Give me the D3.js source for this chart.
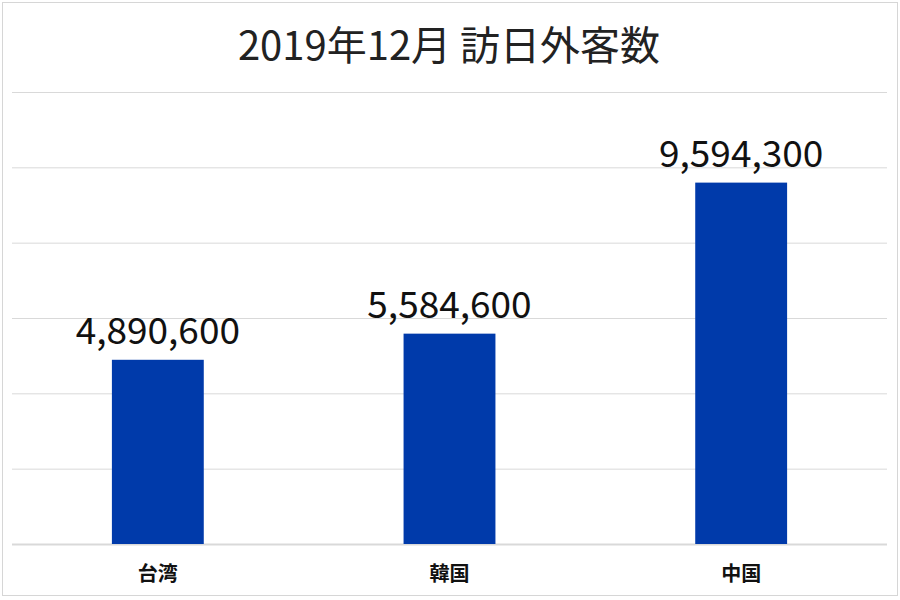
<!DOCTYPE html>
<html>
<head>
<meta charset="utf-8">
<script src="https://cdn.jsdelivr.net/npm/d3@7"></script>
<style>
  body { margin: 0; background: #fff; }
  svg { display: block; }
</style>
</head>
<body>
<div id="chart"></div>
<script>
const categories = ['台湾', '韓国', '中国'];
const visitors = [4890600, 5584600, 9594300];
const yTicks = [0, 2000000, 4000000, 6000000, 8000000, 10000000, 12000000];
const titleText = '2019年12月 訪日外客数';

var svgwidth = 900;
var svgheight = 600;

const data = categories.map((c, i) => ({ category: c, value: visitors[i] }));

var svg = d3.select('#chart')
    .append('svg')
    .attr('width', svgwidth)
    .attr('height', svgheight)
    .style('font-family', '"Noto Sans CJK JP", "Noto Sans", sans-serif');

svg.append('rect')
    .attr('width', svgwidth)
    .attr('height', svgheight)
    .attr('fill', '#fff');

// light frame round the picture
svg.append('rect')
    .attr('x', 2.5)
    .attr('y', 2.5)
    .attr('width', svgwidth - 5)
    .attr('height', svgheight - 7)
    .attr('fill', 'none')
    .attr('stroke', '#d6d6d6');

var xscale = d3.scaleBand()
    .domain(categories)
    .range([12, 887])
    .paddingInner(0.685)
    .paddingOuter(0.3425);

var yscale = d3.scaleLinear()
    .domain([0, 12000000])
    .range([544, 92]);

// gridlines
var grid = svg.append('g')
    .attr('transform', 'translate(12, 0)')
    .call(d3.axisLeft(yscale).tickValues(yTicks).tickSize(-875).tickFormat(''));
grid.select('.domain').remove();
grid.selectAll('.tick line')
    .attr('stroke', '#d9d9d9')
    .attr('stroke-width', d => d === 0 ? 2 : 1);

svg.selectAll('.bar')
    .data(data)
    .enter()
    .append('rect')
    .attr('class', 'bar')
    .attr('x', d => xscale(d.category))
    .attr('y', d => yscale(d.value))
    .attr('width', xscale.bandwidth())
    .attr('height', d => yscale(0) - yscale(d.value))
    .attr('fill', '#003aaa');

svg.selectAll('.value')
    .data(data)
    .enter()
    .append('text')
    .attr('class', 'value')
    .attr('x', d => xscale(d.category) + xscale.bandwidth() / 2)
    .attr('y', d => yscale(d.value) - 16)
    .attr('text-anchor', 'middle')
    .style('font-size', '37px')
    .style('fill', '#111')
    .text(d => d3.format(',')(d.value));

// category axis
var xaxis = svg.append('g')
    .attr('transform', 'translate(0, 544)')
    .call(d3.axisBottom(xscale).tickSize(0).tickPadding(23));
xaxis.select('.domain').remove();
xaxis.selectAll('text')
    .style('font-size', '20px')
    .style('font-weight', 'bold')
    .style('font-family', '"Noto Sans CJK JP", sans-serif')
    .style('fill', '#111');

svg.append('text')
    .attr('x', 449)
    .attr('y', 60)
    .attr('text-anchor', 'middle')
    .style('font-size', '40px')
    .style('fill', '#222')
    .text(titleText);
</script>
</body>
</html>
